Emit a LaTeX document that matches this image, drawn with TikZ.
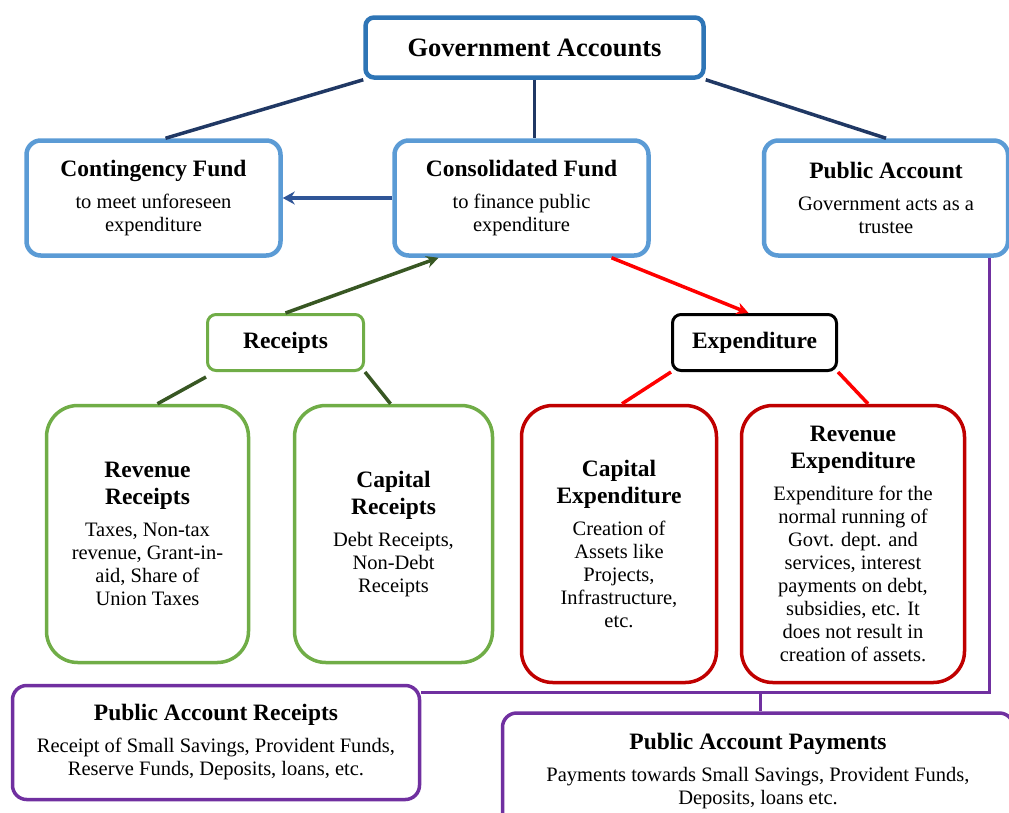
\documentclass[tikz,border=0pt]{standalone}
\usepackage{fontspec}
\setmainfont{Liberation Serif}
\usetikzlibrary{arrows.meta}

\definecolor{govblue}{HTML}{2E75B6}
\definecolor{fundblue}{HTML}{5B9BD5}
\definecolor{navy}{HTML}{203864}
\definecolor{arrblue}{HTML}{2F5597}
\definecolor{leafgreen}{HTML}{70AD47}
\definecolor{darkgreen}{HTML}{385723}
\definecolor{darkred}{HTML}{C00000}
\definecolor{pubpurple}{HTML}{7030A0}

\newcommand{\hdtxt}[1]{{\fontsize{23.5}{27}\selectfont\bfseries #1}}

\begin{document}
\begin{tikzpicture}[x=1pt, y=-1pt,
    top/.style={rectangle, draw=govblue, line width=4.5pt, rounded corners=3mm,
        minimum width=338pt, minimum height=60pt, align=center,
        font=\fontsize{26.5}{30}\selectfont\bfseries},
    fund/.style={rectangle, draw=fundblue, line width=4.5pt, rounded corners=5mm,
        minimum height=115pt, align=center, inner sep=0pt,
        font=\fontsize{20.5}{23}\selectfont},
    group/.style={rectangle, line width=3pt, rounded corners=3mm,
        minimum height=56pt, inner sep=0pt, font=\fontsize{23.5}{27}\selectfont\bfseries},
    leaf/.style={rectangle, line width=3.5pt, rounded corners=11mm,
        align=center, inner sep=0pt, font=\fontsize{20.5}{23}\selectfont},
    pub/.style={rectangle, draw=pubpurple, line width=3.5pt, rounded corners=5mm,
        minimum height=114pt, align=center, inner sep=0pt,
        font=\fontsize{20.5}{23}\selectfont},
    tline/.style={draw=navy, line width=3.5pt},
    gline/.style={draw=darkgreen, line width=3.5pt},
    rline/.style={draw=red, line width=3.5pt},
    pline/.style={draw=pubpurple, line width=3pt}
]
\useasboundingbox (0,0) rectangle (1009,812);

% top level
\node (gov) [top] at (534.5,47.5) {Government Accounts};
\node (cf) [fund, minimum width=254pt] at (153.5,198)
    {\hdtxt{Contingency Fund}\\[9pt] to meet unforeseen\\ expenditure};
\node (cons) [fund, minimum width=254pt] at (521.5,198)
    {\hdtxt{Consolidated Fund}\\[9pt] to finance public\\ expenditure};
\node (pa) [fund, minimum width=244pt] at (886,198)
    {\hdtxt{Public Account}\\[9pt] Government acts as a\\ trustee};

% receipts and expenditure
\node (rcp) [group, draw=leafgreen, minimum width=156pt] at (285.5,342.5) {Receipts};
\node (exp) [group, draw=black, minimum width=164pt] at (754.5,342.5) {Expenditure};

\node (rr) [leaf, draw=leafgreen, minimum width=202pt, minimum height=257pt] at (147.5,534)
    {\hdtxt{Revenue}\\[4pt] \hdtxt{Receipts}\\[9pt] Taxes, Non-tax\\ revenue, Grant-in-\\ aid, Share of\\ Union Taxes};
\node (cr) [leaf, draw=leafgreen, minimum width=198pt, minimum height=257pt] at (393.5,534)
    {\hdtxt{Capital}\\[4pt] \hdtxt{Receipts}\\[9pt] Debt Receipts,\\ Non-Debt\\ Receipts};
\node (ce) [leaf, draw=darkred, minimum width=195pt, minimum height=277pt] at (619,544)
    {\hdtxt{Capital}\\[4pt] \hdtxt{Expenditure}\\[9pt] Creation of\\ Assets like\\ Projects,\\ Infrastructure,\\ etc.};
\node (re) [leaf, draw=darkred, minimum width=223pt, minimum height=277pt] at (853,544)
    {\hdtxt{Revenue}\\[4pt] \hdtxt{Expenditure}\\[9pt] Expenditure for the\\ normal running of\\ Govt. dept. and\\ services, interest\\ payments on debt,\\ subsidies, etc. It\\ does not result in\\ creation of assets.};

% public account
\node (par) [pub, minimum width=407pt] at (216,742.5)
    {\hdtxt{Public Account Receipts}\\[9pt] Receipt of Small Savings, Provident Funds,\\ Reserve Funds, Deposits, loans, etc.};
\node (pap) [pub, minimum width=511pt, minimum height=116pt] at (758,771)
    {\hdtxt{Public Account Payments}\\[9pt] Payments towards Small Savings, Provident Funds,\\ Deposits, loans etc.};

% connectors
\draw[tline] (gov.south west) -- ([xshift=12pt]cf.north);
\draw[tline] (gov.south) -- (gov.south |- cons.north);
\draw[tline] (gov.south east) -- (pa.north);
\draw[draw=arrblue, line width=4pt, -{Stealth[length=12pt, width=13pt]}] (cons.west) -- (cf.east);

\draw[gline, -{Stealth[length=12pt, width=12pt]}] (rcp.north) -- ([xshift=-83pt]cons.south);
\draw[rline, -{Stealth[length=12pt, width=12pt]}] ([xshift=90pt]cons.south) -- ([xshift=-6pt]exp.north);

\draw[gline] ([yshift=-5pt]rcp.south west) -- ([xshift=10pt]rr.north);
\draw[gline] (rcp.south east) -- ([xshift=-3pt]cr.north);
\draw[rline] (exp.south west) -- ([xshift=3pt]ce.north);
\draw[rline] (exp.south east) -- ([xshift=15pt]re.north);

\coordinate (jn) at (760,692);
\draw[pline] ([xshift=-21pt]pa.south east) |- (jn) -- (jn -| par.east);
\draw[pline] (jn) -- (jn |- pap.north);
\end{tikzpicture}
\end{document}
